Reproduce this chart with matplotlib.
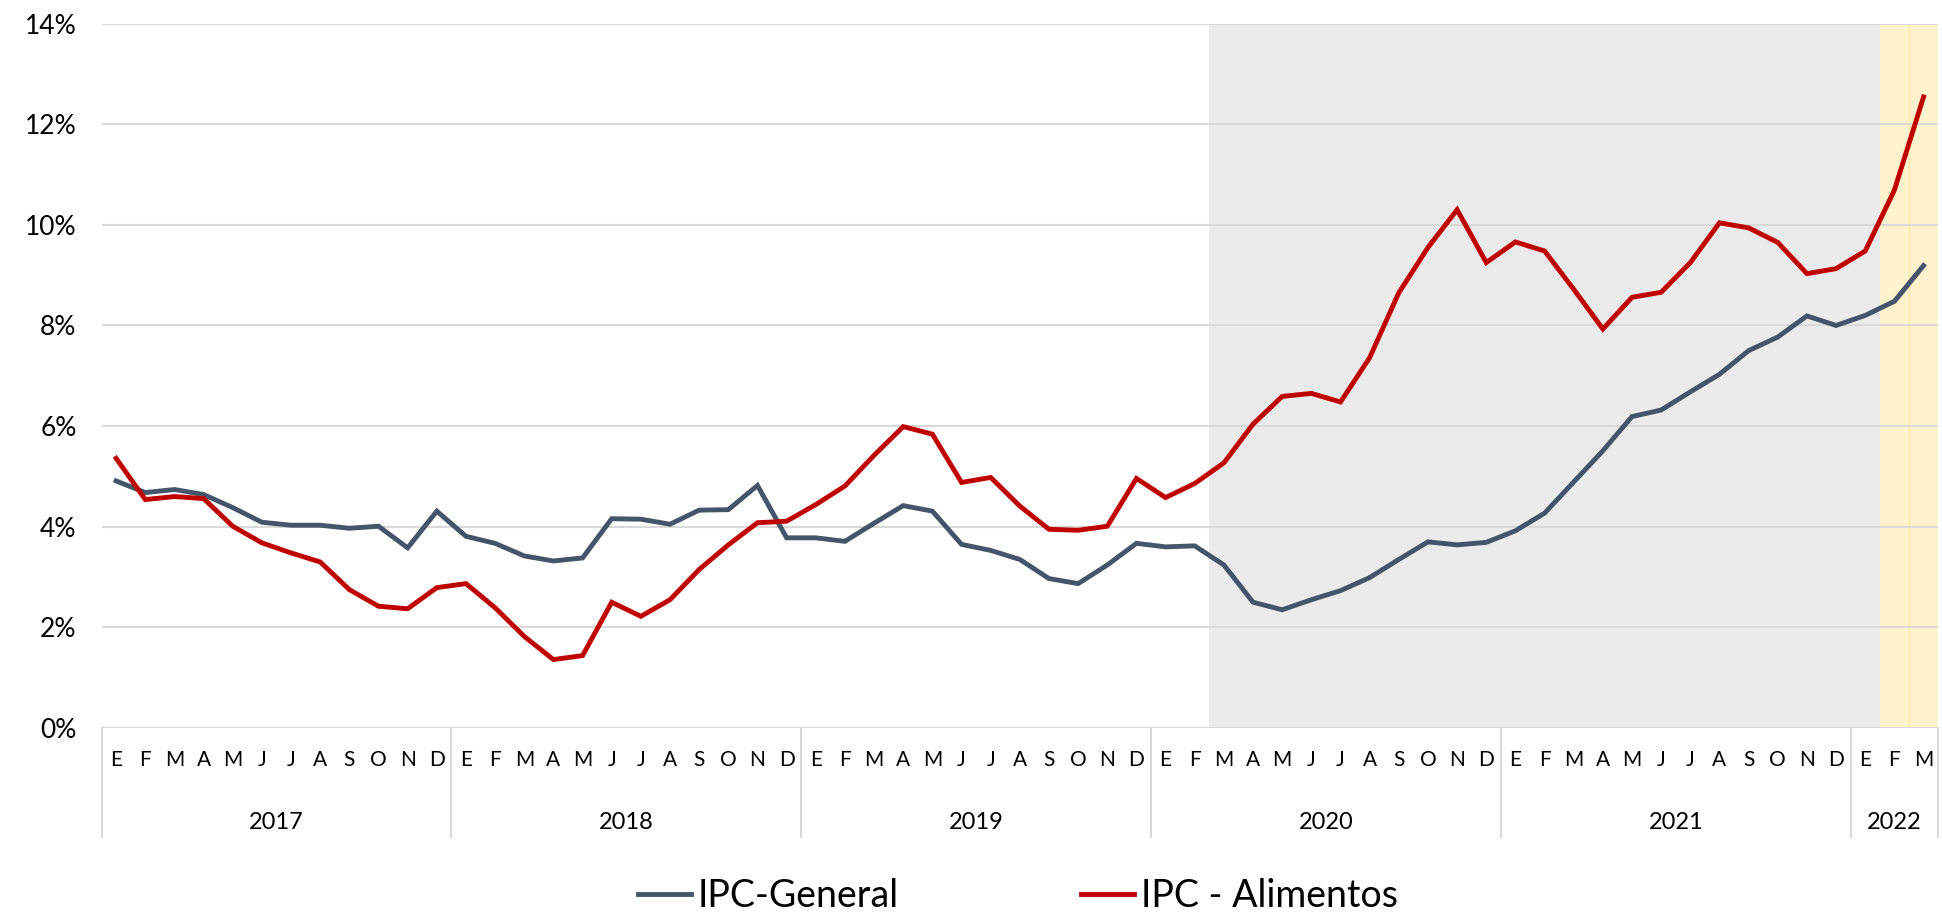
import numpy as np
import matplotlib
matplotlib.use("Agg")
import matplotlib.pyplot as plt
import matplotlib.transforms as mtransforms

plt.rcParams['font.family'] = ['Lato', 'DejaVu Sans']

# data: 12-month inflation (%), Jan 2017 - Mar 2022
years = ["2017", "2018", "2019", "2020", "2021", "2022"]
months_per_year = [12, 12, 12, 12, 12, 3]
month_letters = ["E", "F", "M", "A", "M", "J", "J", "A", "S", "O", "N", "D"]

ipc_general = [
    4.91, 4.68, 4.74, 4.64, 4.38, 4.09, 4.03, 4.03, 3.97, 4.01, 3.58, 4.31,
    3.81, 3.67, 3.42, 3.32, 3.38, 4.16, 4.15, 4.05, 4.33, 4.34, 4.82, 3.78,
    3.78, 3.71, 4.07, 4.42, 4.31, 3.65, 3.53, 3.35, 2.97, 2.87, 3.24, 3.67,
    3.60, 3.62, 3.24, 2.50, 2.35, 2.55, 2.73, 2.99, 3.35, 3.70, 3.64, 3.69,
    3.92, 4.27, 4.89, 5.51, 6.19, 6.32, 6.68, 7.03, 7.50, 7.77, 8.19, 8.00,
    8.20, 8.48, 9.19,
]
ipc_alimentos = [
    5.36, 4.54, 4.60, 4.56, 4.01, 3.68, 3.48, 3.30, 2.75, 2.42, 2.37, 2.79,
    2.87, 2.39, 1.82, 1.36, 1.44, 2.50, 2.22, 2.55, 3.15, 3.64, 4.08, 4.11,
    4.44, 4.81, 5.42, 5.99, 5.84, 4.88, 4.98, 4.41, 3.95, 3.93, 4.01, 4.96,
    4.58, 4.86, 5.27, 6.04, 6.59, 6.65, 6.48, 7.36, 8.65, 9.55, 10.30, 9.25,
    9.66, 9.48, 8.72, 7.93, 8.56, 8.66, 9.25, 10.04, 9.94, 9.65, 9.03, 9.13,
    9.48, 10.69, 12.54,
]

# month labels for every point
labels = []
for n in months_per_year:
    labels += month_letters[:n]
x = np.arange(len(labels))

# shaded periods (month index)
pandemic_start = 38   # Mar 2020
recent = (61, 62)     # Feb-Mar 2022

fig = plt.figure(figsize=(19.42, 9.13), dpi=100)
ax = fig.add_axes([0.0523, 0.2026, 0.9457, 0.7716])

ax.axvspan(pandemic_start - 0.5, recent[0] - 0.5, color="#EBEBEB", lw=0, zorder=0)
ax.axvspan(recent[0] - 0.5, recent[1] + 0.5, color="#FFF2CC", lw=0, zorder=0)
ax.axvline(recent[0] + 0.5, color="#FFE9A8", lw=1, zorder=0.5)

for v in range(0, 15, 2):
    ax.axhline(v, color="#D9D9D9", lw=1.5, zorder=1)

ax.plot(x, ipc_general, color="#44546A", lw=3.5, label="IPC-General",
        zorder=3, solid_joinstyle="miter")
ax.plot(x, ipc_alimentos, color="#C00000", lw=3.5, label="IPC - Alimentos",
        zorder=3, solid_joinstyle="miter")

ax.set_xlim(-0.5, len(labels) - 0.5)
ax.set_ylim(0, 14)
ax.set_yticks(range(0, 15, 2))
ax.set_yticklabels([f"{v}%" for v in range(0, 15, 2)], fontsize=19)
ax.set_xticks([])
ax.tick_params(axis="both", length=0)
ax.tick_params(axis="y", pad=18)
for s in ax.spines.values():
    s.set_visible(False)

# month letters and year groups under the axis
trans = mtransforms.blended_transform_factory(ax.transData, ax.transAxes)
for i, m in enumerate(labels):
    ax.text(i, -0.0546, m, transform=trans, ha="center", va="baseline",
            fontsize=15)
start = 0
bounds = [-0.5]
for yr, n in zip(years, months_per_year):
    ax.text(start + (n - 1) / 2, -0.144, yr, transform=trans, ha="center",
            va="baseline", fontsize=17)
    start += n
    bounds.append(start - 0.5)
for b in bounds:
    ax.plot([b, b], [0, -0.155], transform=trans, color="#D9D9D9", lw=1.5,
            clip_on=False)

fig.legend(loc="center left", bbox_to_anchor=(0.3285, 0.019), ncol=2,
           frameon=False, fontsize=27, handlelength=1.41, handletextpad=0.19,
           columnspacing=4.85, borderpad=0, borderaxespad=0)

fig.savefig("out.png", dpi=100)
